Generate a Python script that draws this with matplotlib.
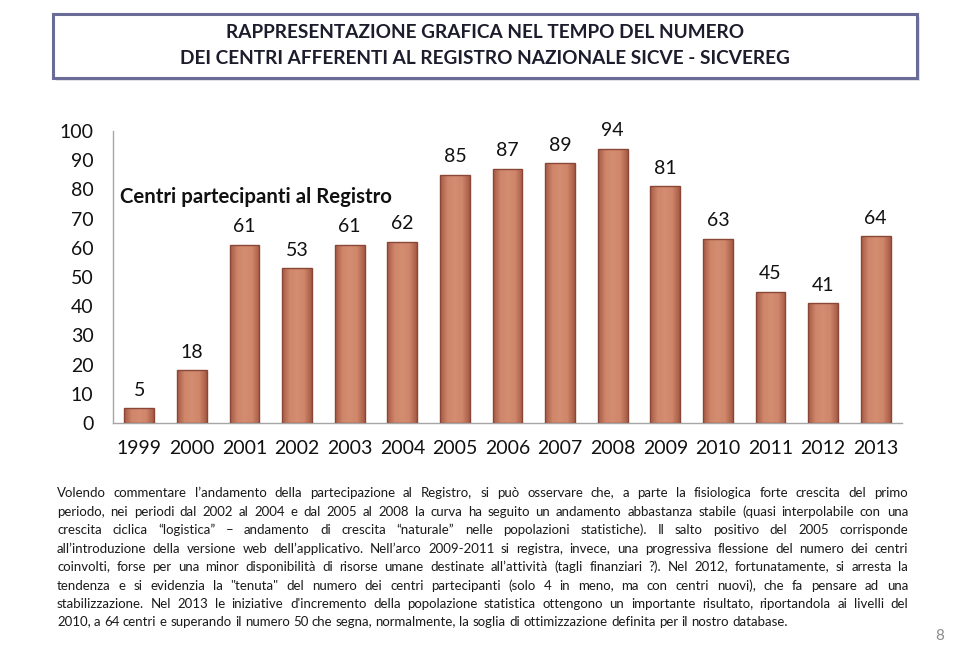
import math

import matplotlib
matplotlib.use('Agg')
import matplotlib.pyplot as plt
import numpy as np
from matplotlib.colors import LinearSegmentedColormap
from matplotlib.font_manager import FontProperties
from matplotlib.patches import Rectangle

# chart data
years = ['1999', '2000', '2001', '2002', '2003', '2004', '2005', '2006',
         '2007', '2008', '2009', '2010', '2011', '2012', '2013']
centri = [5, 18, 61, 53, 61, 62, 85, 87, 89, 94, 81, 63, 45, 41, 64]
y_ticks = [0, 10, 20, 30, 40, 50, 60, 70, 80, 90, 100]

title_lines = ['RAPPRESENTAZIONE GRAFICA NEL TEMPO DEL NUMERO',
               'DEI CENTRI AFFERENTI AL REGISTRO NAZIONALE SICVE - SICVEREG']
series_title = 'Centri partecipanti al Registro'
body_lines = [
    'Volendo commentare l\u2019andamento della partecipazione al Registro, si può osservare che, a parte la fisiologica forte crescita del primo',
    'periodo, nei periodi dal 2002 al 2004 e dal 2005 al 2008 la curva ha seguito un andamento abbastanza stabile (quasi interpolabile con una',
    'crescita ciclica \u201clogistica\u201d \u2013 andamento di crescita \u201cnaturale\u201d nelle popolazioni statistiche). Il salto positivo del 2005 corrisponde',
    'all\u2019introduzione della versione web dell\u2019applicativo. Nell\u2019arco 2009-2011 si registra, invece, una progressiva flessione del numero dei centri',
    'coinvolti, forse per una minor disponibilità di risorse umane destinate all\u2019attività (tagli finanziari ?). Nel 2012, fortunatamente, si arresta la',
    'tendenza e si evidenzia la "tenuta" del numero dei centri partecipanti (solo 4 in meno, ma con centri nuovi), che fa pensare ad una',
    'stabilizzazione. Nel 2013 le iniziative d\'incremento della popolazione statistica ottengono un importante risultato, riportandola ai livelli del',
    '2010, a 64 centri e superando il numero 50 che segna, normalmente, la soglia di ottimizzazione definita per il nostro database.',
]
page_num = '8'

W, H = 960, 665
font = 'Lato'
plt.rcParams['font.family'] = [font, 'DejaVu Sans']

fig = plt.figure(figsize=(W / 100, H / 100), dpi=100)
fig.patch.set_facecolor('white')
renderer = fig.canvas.get_renderer()


def px(x, y):
    # pixel coords (top-left origin) -> figure fraction
    return x / W, 1 - y / H


def measure(text, **kw):
    t = fig.text(0, 0, text, **kw)
    w = t.get_window_extent(renderer=renderer).width
    t.remove()
    return w


def fit_size(text, target, **kw):
    return 10 * target / measure(text, fontsize=10, **kw)


def baseline_shift(word, size):
    # agg rounds each string's bitmap on its own, which makes words hop by a
    # pixel; work out that hop so every word sits on the same row
    fp = FontProperties(family=[font, 'DejaVu Sans'], size=size)
    _, h, d = renderer.get_text_width_height_descent(word, fp, ismath=False)
    a = (h - d) - math.floor(h - d)
    f = d - math.floor(d)
    return int(f >= 0.5) - int(a + f >= 1)


# title box
x0, y0 = px(53, 78)
fig.patches.append(Rectangle((x0 + 3 / W, y0 - 3 / H), 864 / W, 64 / H,
                             transform=fig.transFigure, facecolor='#e4e4ea',
                             edgecolor='none', zorder=0))
fig.patches.append(Rectangle((x0, y0), 864 / W, 64 / H, transform=fig.transFigure,
                             facecolor='white', edgecolor='#6b6b98', lw=2.2, zorder=1))
tsize = fit_size(title_lines[0], 517, fontweight='bold')
for line, yy in zip(title_lines, [33, 58]):
    fig.text(*px(485, yy), line, fontsize=tsize, fontweight='bold', color='#1c1c2c',
             ha='center', va='center', zorder=2)

# bar chart
ax = fig.add_axes([113 / W, 1 - 423 / H, (902 - 113) / W, (423 - 131) / H])
ax.set_facecolor('none')
xs = list(range(len(years)))
bw = 0.57
bar_cmap = LinearSegmentedColormap.from_list(
    'terra', ['#a65a45', '#cf866a', '#d48d71', '#cf866a', '#a65a45'])
grad = np.linspace(0, 1, 64).reshape(1, -1)
bars = ax.bar(xs, centri, width=bw, color='#cd8569', edgecolor='#8a4636', linewidth=1.0)
for b in bars:
    im = ax.imshow(grad, cmap=bar_cmap, aspect='auto', zorder=b.get_zorder(),
                   extent=(b.get_x(), b.get_x() + b.get_width(), 0, b.get_height()))
    im.set_clip_path(b)
for b in bars:
    b.set_facecolor('none')
    b.set_zorder(3)
for x, v in zip(xs, centri):
    ax.annotate(str(v), (x, v), xytext=(0, 13), textcoords='offset points',
                ha='center', va='center', fontsize=14, color='#111111')
ax.set_xlim(-0.5, len(years) - 0.5)
ax.set_ylim(0, 100)
ax.set_yticks(y_ticks)
ax.set_xticks(xs)
ax.set_xticklabels(years)
ax.tick_params(axis='both', length=0, labelsize=14, colors='#111111')
ax.tick_params(axis='y', pad=14)
ax.tick_params(axis='x', pad=12)
for s in ['top', 'right']:
    ax.spines[s].set_visible(False)
for s in ['left', 'bottom']:
    ax.spines[s].set_color('#a6a6a6')
    ax.spines[s].set_linewidth(1.0)

ssize = fit_size(series_title, 272, fontweight='bold')
fig.text(*px(120, 197), series_title, fontsize=ssize, fontweight='bold',
         color='#111111', ha='left', va='center')

# justified paragraph, one text per word
left, right = 57, 908
bsize = fit_size(body_lines[-1], 730)
line_y = [497, 516, 534, 553, 571, 590, 608, 626]  # baselines
for i, (line, yy) in enumerate(zip(body_lines, line_y)):
    words = line.split(' ')
    widths = [measure(w_, fontsize=bsize) for w_ in words]
    if i < len(body_lines) - 1:
        gap = (right - left - sum(widths)) / (len(words) - 1)
    else:
        gap = measure('a a', fontsize=bsize) - measure('aa', fontsize=bsize)
    x = left
    for w_, wid in zip(words, widths):
        fig.text(*px(x, yy - baseline_shift(w_, bsize)), w_, fontsize=bsize,
                 color='#1a1a1a', ha='left', va='baseline')
        x += wid + gap

fig.text(*px(940, 636), page_num, fontsize=11, color='#8c8c8c', ha='center', va='center')

fig.savefig('out.png', dpi=100, facecolor='white')
